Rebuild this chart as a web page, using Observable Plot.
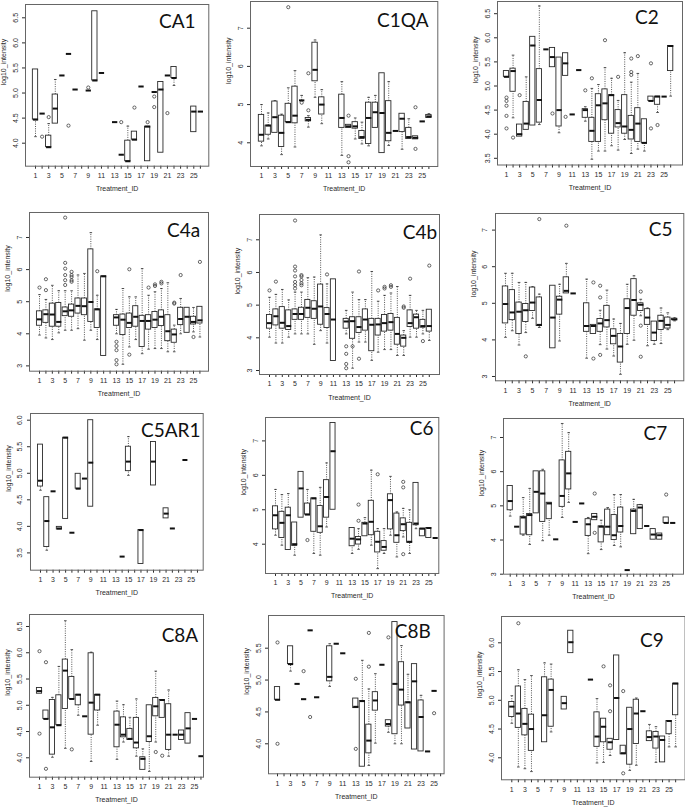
<!DOCTYPE html>
<html><head><meta charset="utf-8">
<script src="https://cdn.jsdelivr.net/npm/d3@7"></script>
<script src="https://cdn.jsdelivr.net/npm/@observablehq/plot@0.6"></script>
<style>
body{margin:0;background:#fff;}
#wrap{position:relative;width:685px;height:807px;overflow:hidden;background:#fff;}
#wrap svg{position:absolute;}
</style></head><body><div id="wrap"></div>
<script>
// Treatment IDs on every x axis
const treatmentIds = d3.range(1, 27);

// Box rows: [id, lowerWhisker, q1, median, q3, upperWhisker]; [id, value] = single observation
const CA1_boxes = [[1,4.13,4.47,4.47,5.47,5.47],[2,4.59],[3,3.92,3.92,3.92,4.15,4.39],[4,4.39,4.39,4.69,4.97,5.27],[5,5.35],[6,5.78],[7,5.07],[9,5.05],[10,5.25,5.25,5.25,6.63,6.63],[11,5.40],[13,4.42],[14,3.77],[15,3.64,3.64,3.64,4.05,4.34],[16,4.07,4.07,4.07,4.23,4.23],[17,5.13],[18,3.64,3.64,4.33,4.33,4.33],[19,5.02],[20,3.81,3.81,5.07,5.22,5.22],[21,5.35],[22,5.15,5.30,5.30,5.52,5.52],[25,4.22,4.22,4.63,4.73,4.73],[26,4.63]];
const CA1_out = [[2,4.13],[3,4.52],[6,4.35],[9,5.11],[14,4.42],[16,4.71],[18,4.42],[19,4.93],[19,4.72],[21,4.60]];
const CA1_yticks = [4.0,4.5,5.0,5.5,6.0,6.5];

const C1QA_boxes = [[1,3.92,4.03,4.21,4.73,5.00],[2,4.10,4.21,4.45,4.45,4.78],[3,4.26,4.26,4.67,5.08,5.10],[4,3.69,3.89,4.26,4.71,4.75],[5,4.54,4.54,4.54,5.02,5.44],[6,3.89,4.51,4.71,5.47,5.89],[7,5.11,5.11,5.11,5.11,5.24],[8,4.41,4.56,4.60,4.65,4.71],[9,5.19,5.61,5.91,6.62,6.69],[10,4.50,4.74,5.00,5.19,5.39],[13,3.67,4.39,4.65,5.26,5.60],[14,4.39,4.39,4.43,4.47,4.47],[15,4.10,4.37,4.43,4.54,4.65],[16,3.97,4.10,4.15,4.31,4.54],[17,3.92,3.97,4.65,5.05,5.19],[18,4.39,4.39,4.80,5.05,5.24],[19,3.73,3.73,4.78,5.82,5.82],[20,3.93,4.04,4.26,5.09,5.60],[21,4.31],[22,3.83,4.28,4.63,4.76,4.76],[23,4.10,4.10,4.15,4.39,4.63],[24,4.09,4.09,4.13,4.17,4.17],[25,4.56],[26,4.65,4.65,4.69,4.73,4.76]];
const C1QA_out = [[5,7.55],[7,5.05],[8,4.85],[8,5.82],[14,4.71],[14,3.65],[14,3.49],[24,4.93],[24,3.84]];
const C1QA_yticks = [4,5,6,7];

const C2_boxes = [[1,5.19,5.19,5.19,5.31,5.31],[2,4.34,4.88,5.31,5.36,5.64],[3,3.95,3.95,4.00,4.20,4.20],[4,4.09,4.09,4.22,4.67,5.19],[5,4.18,4.18,5.84,6.02,6.02],[6,4.20,4.24,4.71,5.35,6.66],[7,5.76],[8,5.39,5.39,5.60,5.79,5.79],[9,4.03,4.16,4.50,5.59,5.59],[10,5.21,5.21,5.47,5.68,5.68],[11,4.41],[12,5.33],[13,4.27,4.34,4.50,4.52,4.57],[14,3.48,3.84,4.07,4.34,4.95],[15,3.65,3.84,4.60,4.83,5.03],[16,3.65,4.29,4.64,4.93,5.38],[17,3.76,4.01,4.81,4.81,5.16],[18,3.67,4.14,4.23,4.50,4.70],[19,3.89,4.01,4.16,4.81,5.69],[20,3.60,3.89,4.09,4.38,5.08],[21,3.69,3.84,4.22,4.54,5.26],[22,3.65,3.81,3.82,4.31,4.31],[23,4.69,4.69,4.69,4.78,4.78],[24,4.45,4.61,4.78,4.78,4.78],[25,4.78],[26,4.79,5.31,5.83,5.83,5.83]];
const C2_out = [[1,4.76],[1,4.69],[1,4.59],[1,4.38],[1,4.12],[2,3.93],[3,4.81],[8,4.43],[10,4.36],[13,4.91],[14,5.16],[16,5.95],[18,5.19],[20,5.57],[20,5.29],[20,5.23],[21,5.62],[23,5.47],[23,4.12],[24,4.19]];
const C2_yticks = [3.5,4.0,4.5,5.0,5.5,6.0,6.5];

const C4a_boxes = [[1,3.96,4.25,4.45,4.70,5.22],[2,3.87,4.34,4.61,4.73,5.07],[3,3.82,4.22,4.60,4.94,5.51],[4,4.03,4.22,4.37,4.96,5.34],[5,4.11,4.55,4.70,4.82,5.34],[6,4.11,4.53,4.73,4.91,5.34],[7,4.16,4.63,4.87,5.10,5.83],[8,3.80,4.58,4.86,5.10,5.88],[9,4.11,4.37,4.99,6.63,7.15],[10,3.82,4.18,4.76,4.76,5.20],[11,3.31,3.31,5.79,5.79,5.79],[13,4.00,4.25,4.51,4.58,4.76],[14,3.05,3.96,4.44,4.60,5.41],[15,3.59,4.18,4.34,4.63,5.15],[16,3.82,4.22,4.53,4.86,5.15],[17,3.38,3.59,4.40,4.56,6.03],[18,3.52,4.13,4.40,4.58,5.20],[19,3.54,4.18,4.44,4.68,5.31],[20,3.54,4.24,4.53,4.73,5.41],[21,3.44,3.77,4.08,4.58,5.59],[22,3.44,3.72,3.98,4.13,4.27],[23,4.00,4.27,4.46,4.81,5.10],[24,4.03,4.03,4.53,4.81,4.81],[25,4.06,4.29,4.37,4.53,4.82],[26,3.90,4.32,4.42,4.84,4.84]];
const C4a_out = [[1,5.44],[2,5.36],[2,5.70],[5,5.52],[5,5.67],[5,5.83],[5,6.03],[5,6.21],[5,7.62],[6,5.62],[6,5.67],[6,5.77],[6,5.83],[6,5.93],[10,5.95],[13,3.75],[13,3.62],[13,3.49],[13,3.18],[13,3.05],[15,6.01],[15,3.35],[18,5.44],[19,5.54],[19,5.49],[20,5.62],[20,5.57],[22,4.97],[22,4.94],[23,5.83],[25,3.90],[26,6.24]];
const C4a_yticks = [3,4,5,6,7];

const C4b_boxes = [[1,4.02,4.28,4.45,4.70,5.24],[2,3.84,4.38,4.66,4.87,5.33],[3,3.84,4.28,4.46,4.94,5.48],[4,4.02,4.24,4.36,4.84,5.16],[5,4.12,4.55,4.73,4.87,5.40],[6,4.12,4.55,4.73,4.92,5.40],[7,4.12,4.61,4.92,5.16,5.84],[8,3.80,4.58,4.89,5.12,5.86],[9,4.22,4.40,4.96,5.63,7.15],[10,3.84,4.30,4.73,4.91,5.65],[11,3.29,3.29,4.56,5.79,5.79],[13,4.12,4.28,4.50,4.58,4.84],[14,3.07,3.97,4.51,4.63,5.40],[15,3.87,4.15,4.33,4.63,5.17],[16,3.87,4.22,4.56,4.87,5.17],[17,3.31,3.59,4.40,4.58,6.03],[18,3.56,4.07,4.41,4.58,5.12],[19,3.64,4.19,4.45,4.70,5.30],[20,3.64,4.22,4.48,4.73,5.37],[21,3.46,3.79,4.12,4.61,5.57],[22,3.46,3.73,4.00,4.07,4.22],[23,4.02,4.33,4.45,4.84,5.30],[24,4.02,4.28,4.63,4.71,4.84],[25,4.12,4.31,4.36,4.55,4.84],[26,3.92,4.19,4.36,4.86,4.86]];
const C4b_out = [[1,5.45],[2,5.72],[5,5.51],[5,5.61],[5,5.71],[5,5.88],[5,6.06],[5,6.18],[5,7.59],[6,5.61],[6,5.67],[6,5.77],[6,5.88],[6,5.92],[10,5.94],[13,3.74],[13,3.51],[13,3.20],[13,3.07],[14,3.74],[15,6.03],[15,3.36],[18,5.45],[19,5.56],[19,5.51],[20,5.61],[20,5.56],[22,4.96],[22,4.92],[23,5.81],[25,3.90],[26,6.21]];
const C4b_yticks = [3,4,5,6,7];

const C5_boxes = [[1,4.07,4.45,4.98,5.46,5.82],[2,4.25,4.54,4.75,5.36,5.82],[3,3.86,4.16,4.77,5.02,5.57],[4,4.20,4.49,4.81,4.98,5.57],[5,4.59,4.79,5.02,5.43,5.45],[6,4.34,4.38,4.41,5.16,5.25],[8,3.77,3.77,4.61,5.48,5.48],[9,3.97,4.69,5.10,5.18,5.52],[10,5.27,5.27,5.34,5.71,6.09],[11,5.27],[13,3.50,4.22,4.38,5.00,5.66],[14,4.16,4.16,4.38,4.41,4.41],[15,3.87,4.22,4.45,4.57,4.81],[16,3.75,4.34,4.54,4.93,5.36],[17,3.56,3.88,4.11,4.29,4.57],[18,3.06,3.38,3.82,4.16,4.45],[19,3.88,4.16,4.87,5.11,5.52],[20,3.99,4.66,5.09,5.66,5.75],[21,4.66,4.79,4.96,5.00,5.11],[22,3.84,4.41,4.61,4.84,4.87],[23,3.88,3.97,4.20,4.50,4.50],[24,3.90,4.27,4.52,4.66,4.87],[25,4.28,4.31,4.41,4.61,4.74],[26,4.52,4.54,4.56,4.58,4.60]];
const C5_out = [[4,3.55],[6,7.30],[10,7.12],[14,5.57],[14,3.49],[15,5.16],[15,5.48],[15,3.59],[21,5.32],[21,4.39],[21,3.54]];
const C5_yticks = [3,4,5,6,7];

const C5AR1_boxes = [[1,4.68,4.75,4.86,5.54,5.54],[2,3.55,3.61,4.10,4.55,4.55],[3,4.66],[4,3.94,3.94,3.96,3.99,3.99],[5,4.14,4.14,5.67,5.67,5.67],[6,3.88],[7,4.71,4.71,4.71,4.99,4.99],[8,4.90],[9,4.37,4.37,5.20,6.00,6.00],[14,3.43],[15,4.96,5.04,5.22,5.50,5.69],[17,3.29,3.29,3.93,3.93,3.93],[19,4.77,4.77,5.22,5.59,5.59],[21,4.15,4.15,4.24,4.34,4.34],[22,3.96],[24,5.25]];
const C5AR1_out = [];
const C5AR1_yticks = [3.5,4.0,4.5,5.0,5.5,6.0];

const C6_boxes = [[1,4.26,4.43,4.84,5.10,5.59],[2,3.97,4.18,4.62,4.94,5.44],[3,3.83,3.83,4.84,5.06,5.47],[4,3.68,3.95,4.00,4.63,4.63],[5,4.77,4.77,5.62,6.10,6.10],[6,4.86,4.86,4.86,5.18,5.59],[7,3.73,4.36,5.33,5.33,5.33],[8,3.68,4.33,4.52,5.11,5.65],[9,4.50,4.77,5.37,5.86,6.36],[10,5.00,5.00,6.70,7.52,7.52],[13,3.73,3.94,4.16,4.47,4.47],[14,3.85,3.99,4.14,4.21,4.45],[15,4.23,4.23,4.60,4.62,4.77],[16,3.97,4.26,4.65,5.26,6.15],[17,3.29,3.76,4.07,4.36,4.45],[18,3.73,3.81,3.92,4.09,4.45],[19,4.26,4.43,5.28,5.45,5.97],[20,3.63,4.04,4.26,4.89,4.94],[21,4.21,4.38,4.58,4.75,5.04],[22,3.73,4.04,4.07,4.62,5.00],[23,4.45,4.55,4.60,5.78,5.78],[24,4.23,4.23,4.45,4.45,4.45],[25,4.18,4.18,4.47,4.47,4.47],[26,4.18]];
const C6_out = [[6,4.12],[14,5.15],[14,4.68],[17,6.03],[21,5.81],[21,5.65],[21,3.71]];
const C6_yticks = [4,5,6,7];

const C7_boxes = [[1,4.70,4.87,5.14,5.58,5.58],[2,4.39],[3,4.14,4.16,4.66,4.68,5.24],[4,3.87,4.14,4.73,4.76,5.51],[5,4.78,4.78,5.41,6.01,6.01],[6,3.98,4.53,5.36,6.01,6.07],[7,4.14,4.61,5.07,5.09,5.09],[8,4.02],[9,4.66,4.97,5.29,6.33,7.41],[10,5.10,5.48,5.95,6.58,7.14],[11,4.53],[12,5.07],[13,3.60,4.12,4.46,4.61,4.66],[14,4.58,4.58,4.68,4.76,4.76],[15,3.72,3.93,4.39,4.40,4.58],[16,4.14,4.14,4.39,4.89,4.95],[17,3.84,4.00,4.14,4.73,5.33],[18,3.80,4.22,4.41,4.95,5.33],[19,3.12],[20,4.17,4.17,4.85,4.89,5.19],[21,4.32,4.32,4.95,5.02,5.04],[22,4.41],[23,4.01,4.01,4.16,4.32,4.32],[24,4.01,4.01,4.14,4.19,4.19],[25,4.50,4.50,4.50,4.66,4.66],[26,4.50]];
const C7_out = [[14,5.36],[14,4.21],[25,5.33]];
const C7_yticks = [3,4,5,6,7];

const C8A_boxes = [[1,5.22,5.22,5.27,5.33,5.33],[2,4.74,4.74,4.74,4.90,4.90],[3,4.01,4.06,4.58,5.10,5.15],[4,4.62,4.62,4.62,5.19,5.74],[5,4.18,4.93,5.66,5.87,6.61],[6,5.12,5.12,5.12,5.54,6.06],[7,4.81,5.00,5.20,5.20,5.20],[8,4.79],[9,3.93,4.44,5.05,5.99,6.01],[10,4.62,4.90,5.20,5.20,5.20],[13,3.97,4.20,4.63,4.88,5.08],[14,4.30,4.39,4.44,4.77,5.01],[15,4.34,4.34,4.36,4.55,4.77],[16,4.03,4.18,4.29,4.76,5.12],[17,3.77,3.77,3.98,4.01,4.17],[18,3.74,4.30,4.41,5.00,5.00],[19,4.30,4.79,4.98,5.14,5.65],[20,4.76,4.76,5.10,5.10,5.10],[21,4.03,4.15,4.44,5.02,5.29],[22,4.44],[23,4.34,4.34,4.44,4.52,4.52],[24,4.27,4.27,4.56,4.85,4.85],[25,4.74],[26,4.03]];
const C8A_out = [[1,6.03],[1,4.46],[2,5.82],[2,3.79],[6,4.16],[19,4.11],[20,4.04]];
const C8A_yticks = [4.0,4.5,5.0,5.5,6.0,6.5];

const C8B_boxes = [[1,4.69,4.69,4.69,4.89,4.89],[3,5.14,5.25,5.25,5.53,5.53],[4,4.94],[5,4.70],[6,5.78],[7,4.73],[9,4.90,4.98,5.05,5.53,5.57],[10,5.57],[11,5.42],[13,4.56,4.56,4.58,4.71,4.71],[14,3.64,3.64,4.67,4.67,5.31],[15,3.66,3.85,4.05,4.30,4.86],[16,4.01,4.52,4.68,4.81,5.10],[17,5.24],[18,4.18,4.27,4.31,4.37,4.37],[19,4.00,4.15,4.94,5.91,5.91],[20,4.00,4.60,4.85,5.28,5.54],[21,4.24,4.24,4.65,4.65,5.09],[22,3.91,3.91,4.98,5.25,5.25],[23,3.88,3.88,4.42,4.68,4.76],[24,3.88],[25,4.83]];
const C8B_out = [[1,5.59],[1,4.00],[5,5.14],[6,4.42],[13,5.02],[13,3.92],[15,5.74],[15,5.21],[18,5.67],[25,4.48]];
const C8B_yticks = [4.0,4.5,5.0,5.5];

const C9_boxes = [[1,4.60,4.71,4.89,4.97,5.08],[2,3.84,4.52,4.77,5.24,5.53],[3,3.81,4.39,4.59,4.85,5.36],[4,3.76,4.12,4.50,4.75,5.43],[6,4.27,4.27,4.74,5.40,5.65],[7,4.45,4.54,5.18,5.36,5.63],[9,4.84,4.84,4.95,5.06,5.06],[10,5.82,5.82,6.01,6.21,6.21],[13,5.36],[14,3.91,4.19,4.37,4.79,5.03],[15,3.92,4.27,4.54,4.68,4.68],[16,4.04,4.14,4.27,4.33,4.33],[17,4.31,4.31,5.04,5.78,5.78],[18,4.06,4.06,4.08,4.21,4.21],[19,3.78,3.88,4.50,4.87,4.87],[20,3.87,4.24,4.77,5.01,5.04],[21,4.81],[22,4.29,4.29,4.36,4.46,4.58],[23,3.92,4.16,4.37,4.45,4.54],[24,3.92,3.92,4.31,4.37,4.37],[25,4.19,4.41,4.64,4.64,4.64],[26,4.19,4.74,5.29,5.29,5.29]];
const C9_out = [[2,6.34],[15,5.59],[16,4.81],[16,5.26],[18,5.16],[18,3.73]];
const C9_yticks = [4.0,4.5,5.0,5.5,6.0];

// Layout (page pixels): frame box, x of id 1 and id 25, two y calibration points [value, px], title right/baseline
const panels = [
  {name:"CA1",  boxes:CA1_boxes,  out:CA1_out,  yticks:CA1_yticks,  fmt:".1f", frame:[25,4,208.3,165.7],   x1:35,    x25:193.3, yA:[6.5,17.3],  yB:[4.0,142.7], title:[195,28]},
  {name:"C1QA", boxes:C1QA_boxes, out:C1QA_out, yticks:C1QA_yticks, fmt:"d",   frame:[250,1,437.3,166],    x1:261,   x25:421.7, yA:[7,27.7],    yB:[4,142.3],   title:[428,27]},
  {name:"C2",   boxes:C2_boxes,   out:C2_out,   yticks:C2_yticks,   fmt:".1f", frame:[496.7,0.5,681.7,164], x1:505.7, x25:663.3, yA:[6.5,12.7],  yB:[3.5,157.3], title:[658,23]},
  {name:"C4a",  boxes:C4a_boxes,  out:C4a_out,  yticks:C4a_yticks,  fmt:"d",   frame:[29.3,212.3,208.3,371], x1:39.3, x25:193.3, yA:[7,237.3],   yB:[3,365.7],   title:[200,237]},
  {name:"C4b",  boxes:C4b_boxes,  out:C4b_out,  yticks:C4b_yticks,  fmt:"d",   frame:[259.3,214,439.3,374], x1:269.3, x25:422.7, yA:[7,239.3],   yB:[3,370],     title:[437,238]},
  {name:"C5",   boxes:C5_boxes,   out:C5_out,   yticks:C5_yticks,   fmt:"d",   frame:[495,212.7,683.3,380], x1:505,   x25:667.3, yA:[7,229.3],   yB:[3,375.7],   title:[672,235]},
  {name:"C5AR1",boxes:C5AR1_boxes,out:C5AR1_out,yticks:C5AR1_yticks,fmt:".1f", frame:[30,413.3,202.7,570], x1:40,    x25:190.7, yA:[6.0,420],   yB:[3.5,552.7], title:[200,437]},
  {name:"C6",   boxes:C6_boxes,   out:C6_out,   yticks:C6_yticks,   fmt:"d",   frame:[265,417.3,438.3,573.3], x1:275, x25:428.3, yA:[7,440.7],   yB:[4,544],     title:[433,435]},
  {name:"C7",   boxes:C7_boxes,   out:C7_out,   yticks:C7_yticks,   fmt:"d",   frame:[503.3,418.3,683.3,574], x1:510, x25:666,   yA:[7,437.3],   yB:[3,574],     title:[667,440]},
  {name:"C8A",  boxes:C8A_boxes,  out:C8A_out,  yticks:C8A_yticks,  fmt:".1f", frame:[29.3,614,203.3,776.7], x1:39.3, x25:194.3, yA:[6.5,626],   yB:[4.0,757.3], title:[198,642]},
  {name:"C8B",  boxes:C8B_boxes,  out:C8B_out,  yticks:C8B_yticks,  fmt:".1f", frame:[267.7,615,443.3,773.3], x1:276.7, x25:433.3, yA:[5.5,647.7], yB:[4.0,743.3], title:[430,638]},
  {name:"C9",   boxes:C9_boxes,   out:C9_out,   yticks:C9_yticks,   fmt:".1f", frame:[500.7,616,684.3,779.3], x1:511, x25:668.3, yA:[6.0,642.3], yB:[4.0,757.3], title:[663,647]}
];

function norm(rows) {
  return rows.map(r => r.length === 2
    ? {id:r[0], lo:r[1], q1:r[1], med:r[1], q3:r[1], hi:r[1]}
    : {id:r[0], lo:r[1], q1:r[2], med:r[3], q3:r[4], hi:r[5]});
}

const wrap = document.getElementById("wrap");
const ink = "#2a2a2a";
for (const p of panels) {
  const [fx0, fy0, fx1, fy1] = p.frame;
  const k = (p.x25 - p.x1) / 24;
  const xd = [1 + (fx0 - p.x1) / k, 1 + (fx1 - p.x1) / k];
  const yk = (p.yB[1] - p.yA[1]) / (p.yA[0] - p.yB[0]);
  const yd = [p.yB[0] - (fy1 - p.yB[1]) / yk, p.yA[0] + (p.yA[1] - fy0) / yk];
  const mL = 30, mT = 2, mR = 2, mB = 34;
  const b = norm(p.boxes);
  const svg = Plot.plot({
    width: fx1 - fx0 + mL + mR,
    height: fy1 - fy0 + mT + mB,
    marginLeft: mL, marginTop: mT, marginRight: mR, marginBottom: mB,
    style: {fontFamily: "'Liberation Sans', Arial, sans-serif", fontSize: "7px", background: "transparent", overflow: "visible", color: ink},
    x: {domain: xd, axis: null},
    y: {domain: yd, axis: null},
    marks: [
      Plot.axisY({ticks: p.yticks, tickFormat: d3.format(p.fmt), tickRotate: -90, tickSize: 3, tickPadding: 5, label: null, fontSize: 7}),
      Plot.axisX({ticks: treatmentIds, tickFormat: d => d % 2 ? String(d) : "", tickSize: 3, tickPadding: 4, label: null, fontSize: 7}),
      Plot.ruleX(b, {x: "id", y1: "lo", y2: "q1", stroke: ink, strokeWidth: 0.8, strokeDasharray: "1,1.3"}),
      Plot.ruleX(b, {x: "id", y1: "q3", y2: "hi", stroke: ink, strokeWidth: 0.8, strokeDasharray: "1,1.3"}),
      Plot.link(b.filter(d => d.lo < d.q1), {x1: d => d.id - 0.2, x2: d => d.id + 0.2, y1: "lo", y2: "lo", stroke: ink, strokeWidth: 0.8}),
      Plot.link(b.filter(d => d.hi > d.q3), {x1: d => d.id - 0.2, x2: d => d.id + 0.2, y1: "hi", y2: "hi", stroke: ink, strokeWidth: 0.8}),
      Plot.rect(b.filter(d => d.q3 > d.q1), {x1: d => d.id - 0.4, x2: d => d.id + 0.4, y1: "q1", y2: "q3", fill: "white", stroke: ink, strokeWidth: 0.9}),
      Plot.link(b, {x1: d => d.id - 0.4, x2: d => d.id + 0.4, y1: "med", y2: "med", stroke: "#111", strokeWidth: 2}),
      Plot.dot(p.out, {x: d => d[0], y: d => d[1], r: 1.6, stroke: ink, strokeWidth: 0.7, fill: "none"}),
      Plot.frame({stroke: "#666", strokeWidth: 1}),
      Plot.text([p.name], {frameAnchor: "top-right", dx: p.title[0] - fx1, dy: p.title[1] - fy0, lineAnchor: "bottom", textAnchor: "end", fontSize: 19, fontFamily: "Lato, 'Open Sans', sans-serif", fill: "#111"}),
      Plot.text(["Treatment_ID"], {frameAnchor: "bottom", dy: 25, fontSize: 7, fill: ink}),
      Plot.text(["log10_intensity"], {frameAnchor: "left", dx: -22, rotate: -90, fontSize: 7, fill: ink})
    ]
  });
  svg.style.left = (fx0 - mL) + "px";
  svg.style.top = (fy0 - mT) + "px";
  wrap.appendChild(svg);
}
</script></body></html>
